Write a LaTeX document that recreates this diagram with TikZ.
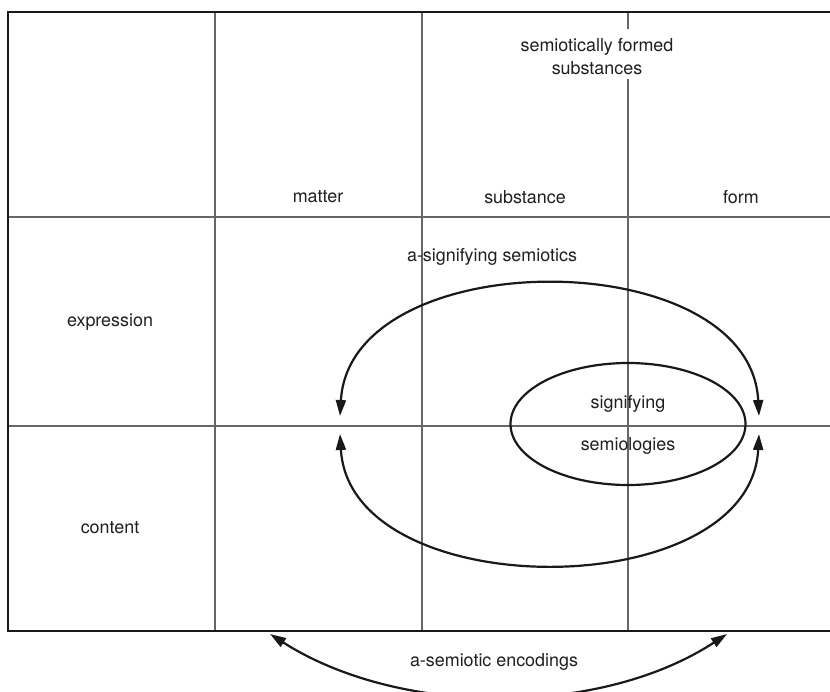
\documentclass[tikz,border=0pt]{standalone}
\usepackage{fontspec}
\setmainfont{TeX Gyre Heros}
\usetikzlibrary{arrows.meta,shapes.geometric}
\begin{document}
\begin{tikzpicture}[x=1pt,y=-1pt,
  frameline/.style={line width=2.5pt,draw=black!90},
  gridline/.style={line width=1.1pt,draw=black!60},
  arcline/.style={line width=2.2pt,draw=black!90,{Triangle[length=16pt,width=10pt]}-{Triangle[length=16pt,width=10pt]}},
  ovalline/.style={line width=2.2pt,draw=black!90},
  lbl/.style={inner sep=0pt,font=\fontsize{17.9}{23}\selectfont,text=black!88,align=center}]
\useasboundingbox (0,0) rectangle (830,691);
\clip (0,0) rectangle (830,691);
% grid
\draw[gridline] (8,217) -- (830,217);
\draw[gridline] (8,426) -- (830,426);
\draw[gridline] (215,12) -- (215,631);
\draw[gridline] (422,12) -- (422,631);
\draw[gridline] (628,12) -- (628,29);
\draw[gridline] (628,79) -- (628,631);
% frame
\draw[frameline] (830,12) -- (8,12) -- (8,631) -- (830,631);
% oval
\node[ovalline,draw,ellipse,minimum width=235pt,minimum height=122pt,inner sep=0pt] (oval) at (628,424) {};
% labels
\node[lbl] (sfs) at (597,57) {semiotically formed\\substances};
\node[lbl] (matter) at (318,197) {matter};
\node[lbl] (substance) at (525,197) {substance};
\node[lbl] (form) at (741,197) {form};
\node[lbl] (expression) at (110,322) {expression};
\node[lbl] (content) at (110,528) {content};
\node[lbl] (asig) at (492,257) {a-signifying semiotics};
\node[lbl] (sig) at (628,404) {signifying};
\node[lbl] (semio) at (628,446) {semiologies};
\node[lbl] (asem) at (494,662) {a-semiotic encodings};
% arc endpoints
\coordinate (ul) at (340,416);
\coordinate (ur) at (759,416);
\coordinate (ll) at (340,434);
\coordinate (lr) at (759,434);
\coordinate (bl) at (270,634);
\coordinate (br) at (727,634);
\draw[arcline] (ul) .. controls (350,242) and (750,242) .. (ur);
\draw[arcline] (ll) .. controls (350,606) and (750,606) .. (lr);
\draw[arcline] (bl) .. controls (400,717) and (600,717) .. (br);
\end{tikzpicture}
\end{document}
